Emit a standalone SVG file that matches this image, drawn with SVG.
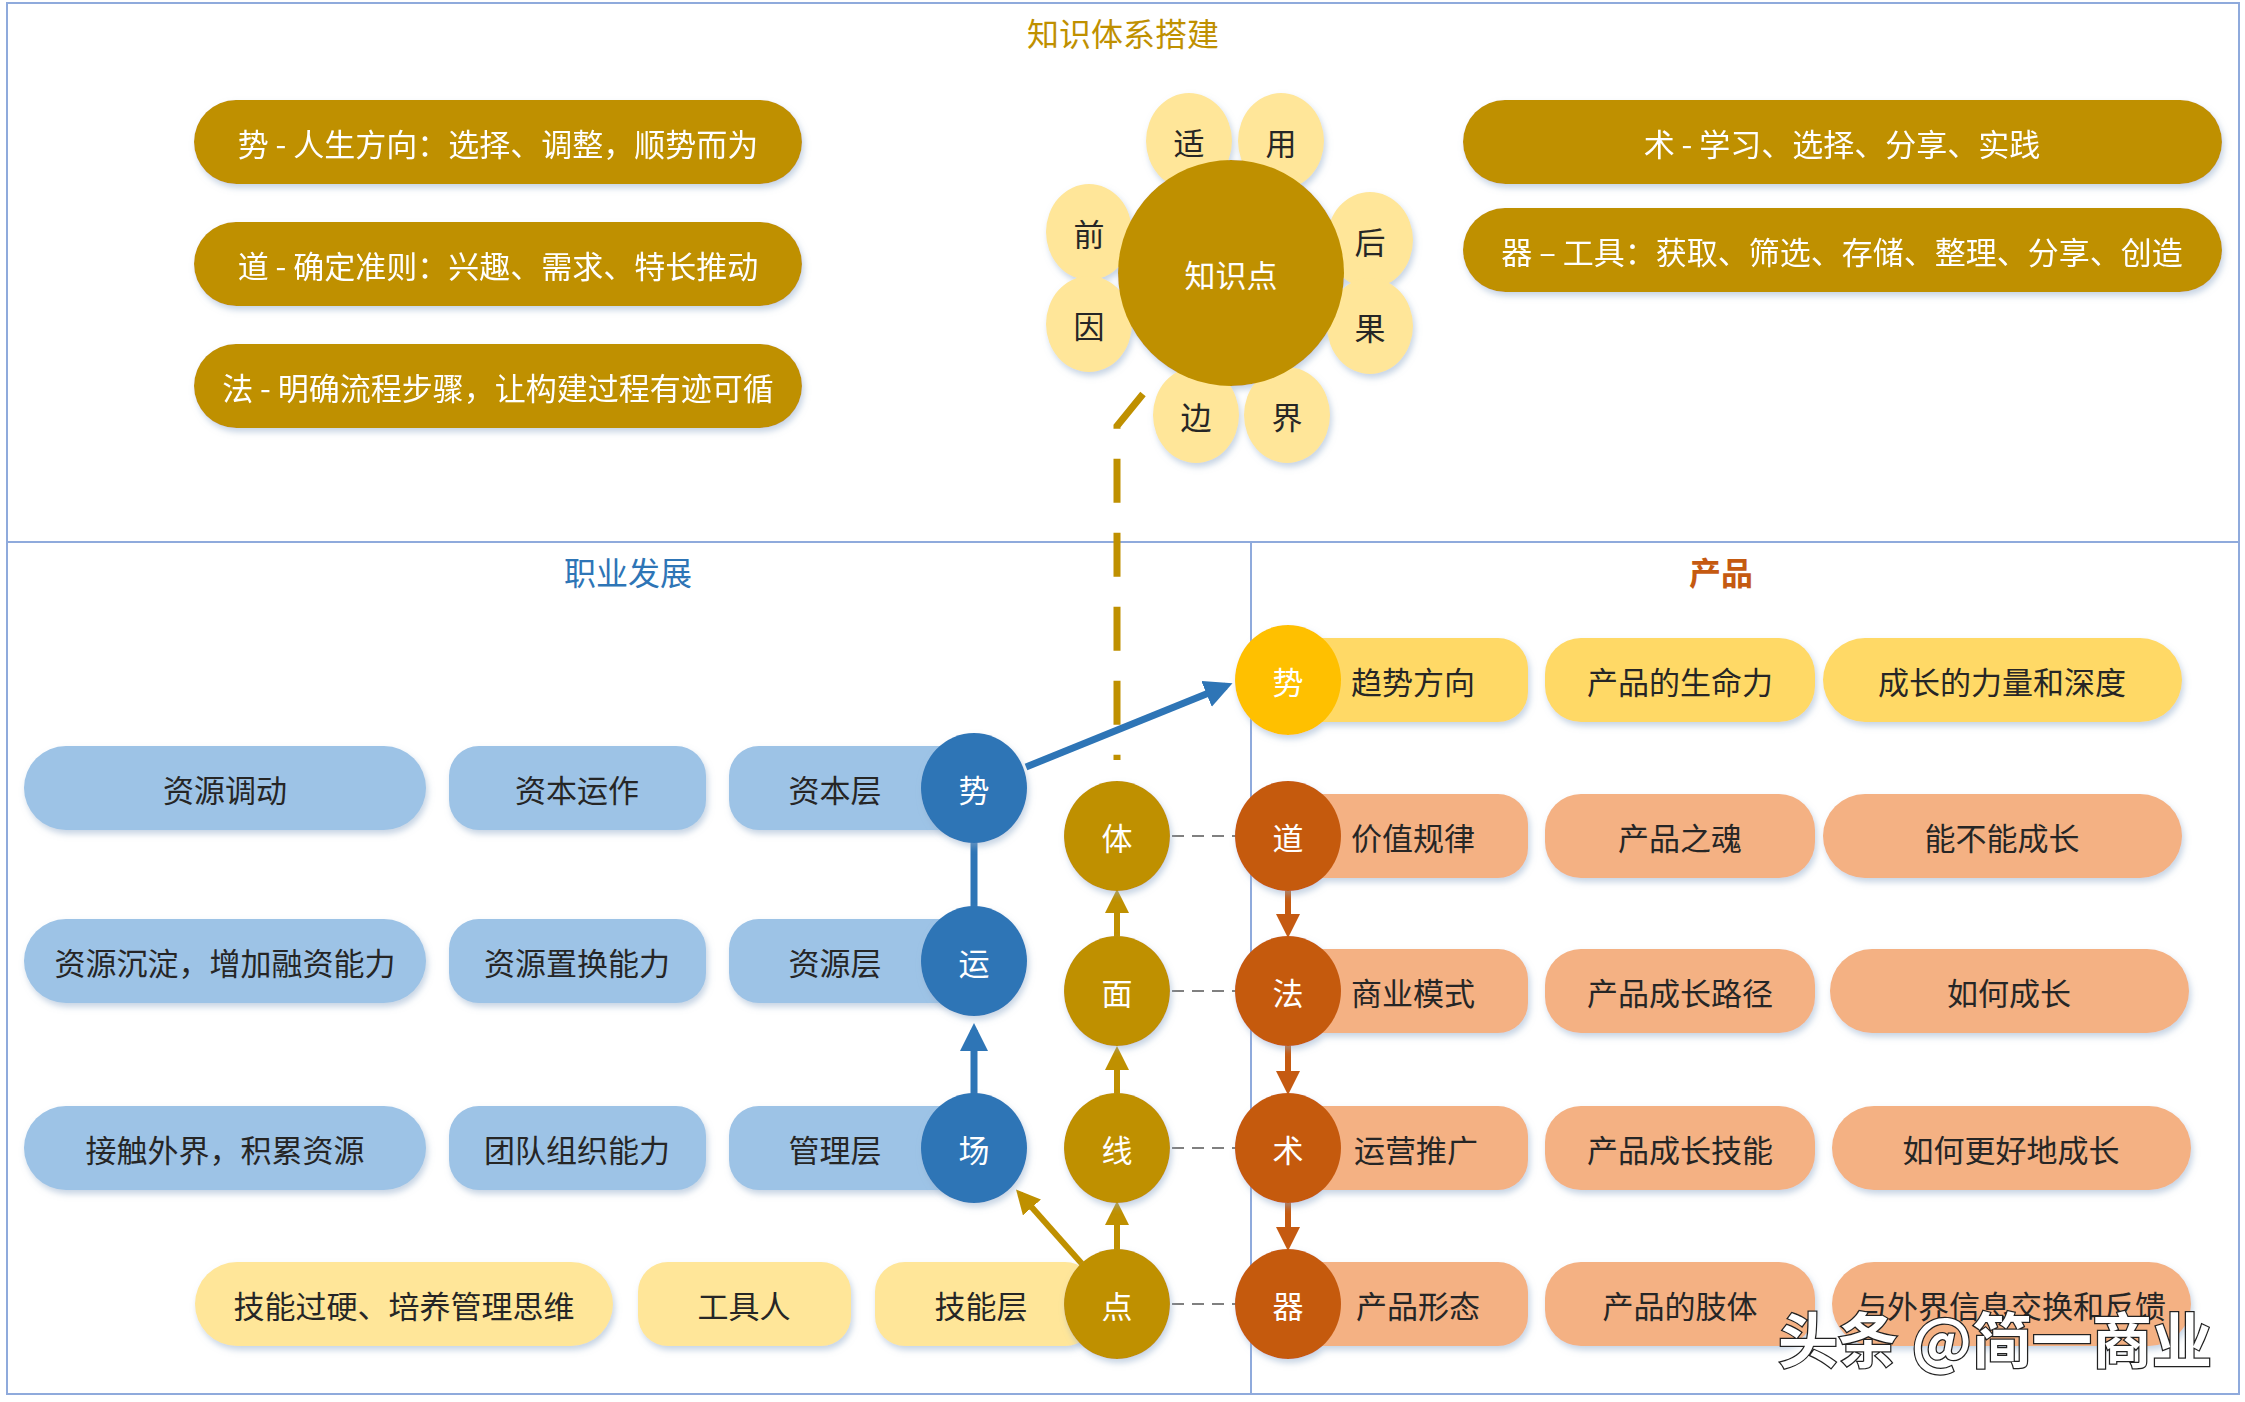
<svg xmlns="http://www.w3.org/2000/svg" width="2245" height="1402" viewBox="0 0 2245 1402">
<style>
text{font-family:"Noto Sans CJK SC","Liberation Sans",sans-serif;dominant-baseline:central;text-anchor:middle}
.t{font-size:31px;fill:#262626}
.w{font-size:31px;fill:#fff}
.gp{fill:#BF9000}
.bp{fill:#9DC3E6}
.yp{fill:#FFE699}
.yp2{fill:#FFD966}
.op{fill:#F4B183}
.pet{fill:#FFE699}
.bc{fill:#2E75B6}
.gc{fill:#BF9000}
.oc{fill:#C55A11}
.sh{filter:url(#sh)}
</style>
<defs>
<filter id="sh" x="-10%" y="-20%" width="120%" height="150%"><feDropShadow dx="2" dy="4" stdDeviation="3" flood-color="#8ea9c8" flood-opacity="0.5"/></filter>
<marker id="ab" markerWidth="4" markerHeight="4" refX="3" refY="2" orient="auto" markerUnits="strokeWidth"><path d="M0,0L4,2L0,4z" fill="#2E75B6"/></marker>
<marker id="ag" markerWidth="4" markerHeight="4" refX="3" refY="2" orient="auto" markerUnits="strokeWidth"><path d="M0,0L4,2L0,4z" fill="#BF9000"/></marker>
<marker id="ao" markerWidth="4" markerHeight="4" refX="3" refY="2" orient="auto" markerUnits="strokeWidth"><path d="M0,0L4,2L0,4z" fill="#C55A11"/></marker>
</defs>
<rect width="2245" height="1402" fill="#fff"/>
<g id="frame" fill="none" stroke="#8FAADC" stroke-width="2">
<rect x="7" y="3" width="2232" height="1391"/>
<line x1="7" y1="542" x2="2239" y2="542"/>
<line x1="1251" y1="542" x2="1251" y2="1394"/>
</g>
<text x="1123" y="32" style="font-size:32px;fill:#BF9000">知识体系搭建</text>
<text x="628" y="571" style="font-size:32px;fill:#2E75B6">职业发展</text>
<text x="1721" y="571" style="font-size:32px;fill:#C55A11;font-weight:bold">产品</text>

<g id="connectors">
<path d="M1143,394 L1117,426 L1117,760" fill="none" stroke="#BF9000" stroke-width="7" stroke-dasharray="44,30"/>
<line x1="974" y1="840" x2="974" y2="908" stroke="#2E75B6" stroke-width="7"/>
<line x1="974" y1="1096" x2="974" y2="1030" stroke="#2E75B6" stroke-width="7" marker-end="url(#ab)"/>
<line x1="1026" y1="767" x2="1226" y2="686" stroke="#2E75B6" stroke-width="7" marker-end="url(#ab)"/>
<line x1="1083" y1="1265" x2="1020" y2="1194" stroke="#BF9000" stroke-width="6" marker-end="url(#ag)"/>
<line x1="1117" y1="1252" x2="1117" y2="1207" stroke="#BF9000" stroke-width="6" marker-end="url(#ag)"/>
<line x1="1117" y1="1096" x2="1117" y2="1052" stroke="#BF9000" stroke-width="6" marker-end="url(#ag)"/>
<line x1="1117" y1="939" x2="1117" y2="895" stroke="#BF9000" stroke-width="6" marker-end="url(#ag)"/>
<line x1="1288" y1="889" x2="1288" y2="932" stroke="#C55A11" stroke-width="6" marker-end="url(#ao)"/>
<line x1="1288" y1="1044" x2="1288" y2="1089" stroke="#C55A11" stroke-width="6" marker-end="url(#ao)"/>
<line x1="1288" y1="1201" x2="1288" y2="1245" stroke="#C55A11" stroke-width="6" marker-end="url(#ao)"/>
<g stroke="#808080" stroke-width="2" stroke-dasharray="12,8">
<line x1="1172" y1="836" x2="1236" y2="836"/>
<line x1="1172" y1="991" x2="1236" y2="991"/>
<line x1="1172" y1="1148" x2="1236" y2="1148"/>
<line x1="1172" y1="1304" x2="1236" y2="1304"/>
</g>
</g>

<g id="top-left" class="sh">
<g id="n-shi"><rect class="gp" x="194" y="100" width="608" height="84" rx="42"/><text class="w" x="498" y="142">势 - 人生方向：选择、调整，顺势而为</text></g>
<g id="n-dao"><rect class="gp" x="194" y="222" width="608" height="84" rx="42"/><text class="w" x="498" y="264">道 - 确定准则：兴趣、需求、特长推动</text></g>
<g id="n-fa"><rect class="gp" x="194" y="344" width="608" height="84" rx="42"/><text class="w" x="498" y="386">法 - 明确流程步骤，让构建过程有迹可循</text></g>
</g>
<g id="top-right" class="sh">
<g id="n-shu"><rect class="gp" x="1463" y="100" width="759" height="84" rx="42"/><text class="w" x="1842" y="142">术 - 学习、选择、分享、实践</text></g>
<g id="n-qi"><rect class="gp" x="1463" y="208" width="759" height="84" rx="42"/><text class="w" x="1842" y="250">器 – 工具：获取、筛选、存储、整理、分享、创造</text></g>
</g>

<g id="flower">
<g class="sh">
<ellipse class="pet" cx="1189" cy="141" rx="43" ry="48"/><ellipse class="pet" cx="1281" cy="141" rx="43" ry="48"/>
<ellipse class="pet" cx="1089" cy="232" rx="43" ry="48"/><ellipse class="pet" cx="1370" cy="240" rx="43" ry="48"/>
<ellipse class="pet" cx="1089" cy="324" rx="43" ry="48"/><ellipse class="pet" cx="1370" cy="326" rx="43" ry="48"/>
<ellipse class="pet" cx="1196" cy="415" rx="43" ry="48"/><ellipse class="pet" cx="1287" cy="415" rx="43" ry="48"/>
<ellipse class="gc" cx="1231" cy="273" rx="113" ry="113"/>
</g>
<text class="t" x="1189" y="141">适</text><text class="t" x="1281" y="141">用</text>
<text class="t" x="1089" y="232">前</text><text class="t" x="1370" y="240">后</text>
<text class="t" x="1089" y="324">因</text><text class="t" x="1370" y="326">果</text>
<text class="t" x="1196" y="415">边</text><text class="t" x="1287" y="415">界</text>
<text class="w" x="1231" y="273">知识点</text>
</g>

<g id="career">
<g id="r1" class="sh"><rect class="bp" x="24" y="746" width="402" height="84" rx="42"/><rect class="bp" x="449" y="746" width="257" height="84" rx="30"/><rect class="bp" x="729" y="746" width="240" height="84" rx="30"/></g>
<text class="t" x="225" y="788">资源调动</text><text class="t" x="577" y="788">资本运作</text><text class="t" x="835" y="788">资本层</text>
<g id="r2" class="sh"><rect class="bp" x="24" y="919" width="402" height="84" rx="42"/><rect class="bp" x="449" y="919" width="257" height="84" rx="30"/><rect class="bp" x="729" y="919" width="240" height="84" rx="30"/></g>
<text class="t" x="225" y="961">资源沉淀，增加融资能力</text><text class="t" x="577" y="961">资源置换能力</text><text class="t" x="835" y="961">资源层</text>
<g id="r3" class="sh"><rect class="bp" x="24" y="1106" width="402" height="84" rx="42"/><rect class="bp" x="449" y="1106" width="257" height="84" rx="30"/><rect class="bp" x="729" y="1106" width="240" height="84" rx="30"/></g>
<text class="t" x="225" y="1148">接触外界，积累资源</text><text class="t" x="577" y="1148">团队组织能力</text><text class="t" x="835" y="1148">管理层</text>
<g id="r4" class="sh"><rect class="yp" x="195" y="1262" width="418" height="84" rx="42"/><rect class="yp" x="638" y="1262" width="213" height="84" rx="30"/><rect class="yp" x="875" y="1262" width="220" height="84" rx="30"/></g>
<text class="t" x="404" y="1304">技能过硬、培养管理思维</text><text class="t" x="744" y="1304">工具人</text><text class="t" x="981" y="1304">技能层</text>
<g class="sh"><ellipse class="bc" cx="974" cy="788" rx="53" ry="55"/><ellipse class="bc" cx="974" cy="961" rx="53" ry="55"/><ellipse class="bc" cx="974" cy="1148" rx="53" ry="55"/>
<ellipse class="gc" cx="1117" cy="836" rx="53" ry="55"/><ellipse class="gc" cx="1117" cy="991" rx="53" ry="55"/><ellipse class="gc" cx="1117" cy="1148" rx="53" ry="55"/><ellipse class="gc" cx="1117" cy="1304" rx="53" ry="55"/></g>
<text class="w" x="974" y="788">势</text><text class="w" x="974" y="961">运</text><text class="w" x="974" y="1148">场</text>
<text class="w" x="1117" y="836">体</text><text class="w" x="1117" y="991">面</text><text class="w" x="1117" y="1148">线</text><text class="w" x="1117" y="1304">点</text>
</g>

<g id="product">
<g class="sh">
<rect class="yp2" x="1290" y="638" width="238" height="84" rx="30"/><rect class="yp2" x="1545" y="638" width="270" height="84" rx="36"/><rect class="yp2" x="1823" y="638" width="359" height="84" rx="42"/>
<rect class="op" x="1290" y="794" width="238" height="84" rx="30"/><rect class="op" x="1545" y="794" width="270" height="84" rx="36"/><rect class="op" x="1823" y="794" width="359" height="84" rx="42"/>
<rect class="op" x="1290" y="949" width="238" height="84" rx="30"/><rect class="op" x="1545" y="949" width="270" height="84" rx="36"/><rect class="op" x="1830" y="949" width="359" height="84" rx="42"/>
<rect class="op" x="1290" y="1106" width="238" height="84" rx="30"/><rect class="op" x="1545" y="1106" width="270" height="84" rx="36"/><rect class="op" x="1832" y="1106" width="359" height="84" rx="42"/>
<rect class="op" x="1290" y="1262" width="238" height="84" rx="30"/><rect class="op" x="1545" y="1262" width="270" height="84" rx="36"/><rect class="op" x="1832" y="1262" width="359" height="84" rx="42"/>
<ellipse cx="1288" cy="680" rx="53" ry="55" fill="#FFC000"/>
<ellipse class="oc" cx="1288" cy="836" rx="53" ry="55"/><ellipse class="oc" cx="1288" cy="991" rx="53" ry="55"/><ellipse class="oc" cx="1288" cy="1148" rx="53" ry="55"/><ellipse class="oc" cx="1288" cy="1304" rx="53" ry="55"/>
</g>
<text class="w" x="1288" y="680">势</text><text class="w" x="1288" y="836">道</text><text class="w" x="1288" y="991">法</text><text class="w" x="1288" y="1148">术</text><text class="w" x="1288" y="1304">器</text>
<text class="t" x="1413" y="680">趋势方向</text><text class="t" x="1680" y="680">产品的生命力</text><text class="t" x="2002" y="680">成长的力量和深度</text>
<text class="t" x="1413" y="836">价值规律</text><text class="t" x="1680" y="836">产品之魂</text><text class="t" x="2002" y="836">能不能成长</text>
<text class="t" x="1413" y="991">商业模式</text><text class="t" x="1680" y="991">产品成长路径</text><text class="t" x="2009" y="991">如何成长</text>
<text class="t" x="1416" y="1148">运营推广</text><text class="t" x="1680" y="1148">产品成长技能</text><text class="t" x="2011" y="1148">如何更好地成长</text>
<text class="t" x="1418" y="1304">产品形态</text><text class="t" x="1680" y="1304">产品的肢体</text><text class="t" x="2011" y="1304">与外界信息交换和反馈</text>
</g>
<text x="1995" y="1336" style="font-size:60px;font-weight:bold;fill:#fff;stroke:#222;stroke-width:2.5;paint-order:stroke">头条 @简一商业</text>
</svg>
